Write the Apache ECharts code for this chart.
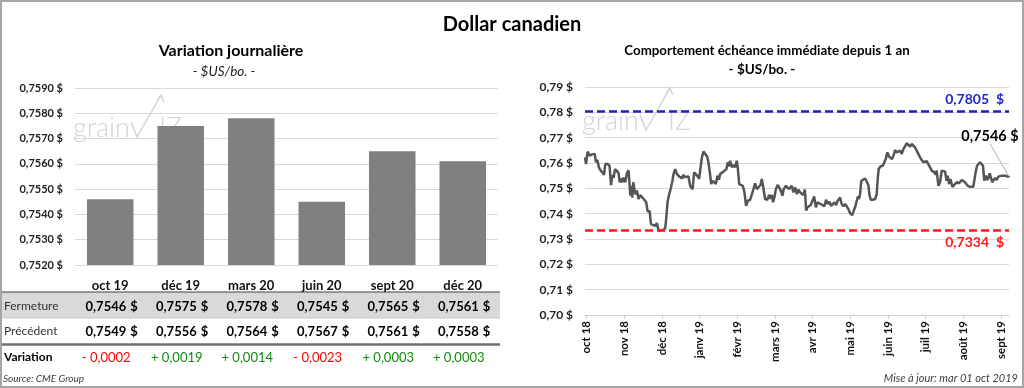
<!DOCTYPE html>
<html><head><meta charset="utf-8">
<script src="https://cdn.jsdelivr.net/npm/echarts@6/dist/echarts.min.js"></script>
<style>html,body{margin:0;padding:0;background:#fff}#c{width:1024px;height:388px}</style>
</head><body><div id="c"></div>
<script>
// ---------- DATA ----------
const barCategories = ['oct 19','déc 19','mars 20','juin 20','sept 20','déc 20'];
const closeValues = [0.7546,0.7575,0.7578,0.7545,0.7565,0.7561];
const prevValues = [0.7549,0.7556,0.7564,0.7567,0.7561,0.7558];
const variationValues = [-0.0002,0.0019,0.0014,-0.0023,0.0003,0.0003];
const barAxisMin = 0.7520, barAxisMax = 0.7590, barAxisStep = 0.0010;

const monthLabels = ['oct 18','nov 18','déc 18','janv 19','févr 19','mars 19','avr 19','mai 19','juin 19','juil 19','août 19','sept 19'];
const monthLabelDays = [1,24,47,70,93,116,139,162,185,208,231,254]; // trading-day index of each label
const lastDay = 259;
const lineAxisMin = 0.70, lineAxisMax = 0.79, lineAxisStep = 0.01;
// trading-day index / close value of the front-month contract
const lineDays = [0,0.6,1.6,2.8,4.3,5.3,5.9,6.7,7.5,8.5,9.5,10.6,11.6,12.4,13.8,15.0,15.9,16.7,17.5,18.3,19.5,20.5,21.2,22.0,22.8,23.6,24.6,25.6,26.6,27.7,28.3,28.9,29.5,30.3,30.9,31.7,32.7,33.8,35.0,36.2,37.4,38.2,39.5,40.3,41.5,42.9,43.9,44.9,46.4,48.0,49.0,49.6,50.4,51.3,52.3,53.3,54.1,55.1,56.1,57.4,58.6,59.4,60.0,61.0,62.2,
63.2,64.3,65.7,66.7,67.7,68.9,69.7,70.6,71.4,72.4,73.4,74.6,75.4,76.3,77.1,78.1,79.1,79.9,80.9,81.8,82.6,83.6,84.6,85.6,86.4,87.2,87.9,88.7,89.7,90.7,91.7,92.7,93.4,94.2,95.4,96.4,97.4,98.4,99.5,100.9,101.9,102.9,103.9,105.0,106.0,107.2,108.0,108.8,110.0,111.3,112.5,113.3,114.1,114.9,115.7,116.6,117.6,118.6,119.6,120.6,121.4,122.7,123.7,124.7,
125.3,126.3,127.3,128.4,129.4,130.4,131.4,132.4,133.4,134.3,135.1,135.9,136.9,137.9,138.9,140.0,141.0,142.0,142.8,144.0,145.0,146.1,147.3,148.3,149.3,150.3,151.4,152.4,153.4,154.4,155.8,156.8,157.9,158.9,159.9,160.9,161.9,163.2,164.2,165.2,166.0,166.8,167.4,168.0,168.8,169.7,171.1,172.1,173.1,173.7,174.5,175.8,177.2,178.2,178.8,179.4,180.6,181.9,182.7,183.7,184.7,185.7,186.8,187.6,188.8,
189.4,190.4,191.4,192.5,193.5,194.5,195.5,196.5,197.5,198.6,199.6,200.6,201.6,202.6,203.6,204.7,205.7,206.7,207.7,208.7,209.7,210.8,211.8,212.6,213.4,214.2,214.8,215.9,216.9,217.9,218.9,219.9,220.9,221.5,222.4,223.2,224.4,225.6,227.0,228.5,230.1,231.1,232.1,233.8,235.2,236.2,237.2,237.8,238.6,239.5,240.3,241.3,242.3,243.1,243.9,244.8,245.6,246.4,247.2,248.0,248.8,249.6,250.5,251.5,252.5,253.5,254.5,255.5,256.5,257.6,258.6,259];
const lineValues = [0.7622,0.7596,0.7645,0.7629,0.7634,0.7632,0.7636,0.7603,0.7613,0.7583,0.7571,0.7563,0.7553,0.7595,0.7597,0.7589,0.7513,0.7553,0.7542,0.7576,0.7568,0.7560,0.7524,0.7539,0.7524,0.7542,0.7524,0.7560,0.7571,0.7471,0.7510,0.7463,0.7524,0.7491,0.7476,0.7491,0.7458,0.7474,0.7464,0.7455,0.7445,0.7410,0.7410,0.7359,0.7355,0.7352,0.7363,0.7334,0.7334,0.7336,0.7344,0.7379,0.7445,0.7474,0.7497,0.7526,0.7557,0.7576,0.7557,0.7547,0.7547,0.7539,0.7553,0.7545,0.7547,
0.7547,0.7508,0.7497,0.7563,0.7557,0.7547,0.7537,0.7583,0.7622,0.7645,0.7636,0.7626,0.7603,0.7560,0.7517,0.7530,0.7524,0.7517,0.7550,0.7534,0.7557,0.7560,0.7566,0.7570,0.7576,0.7603,0.7587,0.7609,0.7583,0.7592,0.7583,0.7609,0.7576,0.7517,0.7513,0.7510,0.7484,0.7431,0.7451,0.7455,0.7458,0.7497,0.7520,0.7497,0.7504,0.7513,0.7537,0.7508,0.7458,0.7455,0.7474,0.7458,0.7474,0.7445,0.7464,0.7497,0.7513,0.7504,0.7491,0.7471,0.7497,0.7510,0.7504,0.7497,
0.7497,0.7510,0.7484,0.7504,0.7477,0.7495,0.7484,0.7491,0.7474,0.7495,0.7412,0.7425,0.7431,0.7434,0.7429,0.7468,0.7425,0.7445,0.7451,0.7438,0.7431,0.7429,0.7455,0.7438,0.7447,0.7431,0.7438,0.7445,0.7434,0.7451,0.7464,0.7438,0.7429,0.7438,0.7429,0.7418,0.7402,0.7394,0.7412,0.7431,0.7451,0.7468,0.7458,0.7477,0.7530,0.7537,0.7539,0.7537,0.7513,0.7477,0.7455,0.7455,0.7458,0.7477,0.7537,0.7576,0.7587,0.7589,0.7583,0.7616,0.7642,0.7626,0.7632,0.7616,0.7636,
0.7651,0.7642,0.7638,0.7649,0.7636,0.7655,0.7662,0.7678,0.7672,0.7665,0.7675,0.7675,0.7662,0.7649,0.7636,0.7622,0.7612,0.7603,0.7596,0.7607,0.7603,0.7583,0.7570,0.7576,0.7563,0.7554,0.7570,0.7510,0.7524,0.7570,0.7563,0.7567,0.7530,0.7550,0.7517,0.7537,0.7506,0.7514,0.7524,0.7520,0.7533,0.7537,0.7524,0.7510,0.7506,0.7504,0.7506,0.7504,0.7563,0.7589,0.7596,0.7603,0.7607,0.7589,0.7530,0.7550,0.7533,0.7541,0.7559,0.7541,0.7524,0.7533,0.7541,0.7533,0.7546,0.7541,0.7550,0.7546,0.7550,0.7550,0.7546,0.7546];
const yearHigh = 0.7805, yearLow = 0.7334, lastClose = 0.7546;

// ---------- HELPERS ----------
const FONT = 'Lato, "Noto Sans", sans-serif';
const comma = (v, d) => v.toFixed(d).replace('.', ',');
const fmtVar = v => (v < 0 ? '- ' : '+ ') + comma(Math.abs(v), 4);

const chart = echarts.init(document.getElementById('c'), null, {renderer: 'canvas'});

function watermark(ox, oy) {
  const c = '#d4d4d4';
  return {
    type: 'group', x: ox, y: oy, silent: true, z: 0,
    children: [
      {type: 'text', x: 0, y: 0, style: {text: 'grain', font: '300 27px ' + FONT, fill: c, textVerticalAlign: 'middle'}},
      {type: 'polyline', shape: {points: [[58, -6], [64, 9], [88, -33]]}, style: {stroke: c, lineWidth: 1.5, fill: null}},
      {type: 'polyline', shape: {points: [[84, -27], [88, -33], [91, -26]]}, style: {stroke: c, lineWidth: 1.5, fill: null}},
      {type: 'text', x: 86, y: 0, style: {text: 'IZ', font: '300 27px ' + FONT, fill: c, textVerticalAlign: 'middle'}}
    ]
  };
}

const option = {
  animation: false,
  textStyle: {fontFamily: FONT},
  grid: [
    {left: 75, right: 526, top: 88, bottom: 123},
    {left: 585, right: 15, top: 87, bottom: 73}
  ],
  xAxis: [
    {gridIndex: 0, type: 'category', data: barCategories,
     axisLine: {show: false}, axisTick: {show: false},
     axisLabel: {fontFamily: FONT, fontWeight: 'bold', fontSize: 13, color: '#111', margin: 14}},
    {gridIndex: 1, type: 'value', min: 0, max: lastDay,
     splitLine: {show: false},
     axisLine: {show: true, lineStyle: {color: '#d0d0d0'}},
     axisTick: {show: true, customValues: monthLabelDays, length: 4, lineStyle: {color: '#d0d0d0'}},
     axisLabel: {customValues: monthLabelDays, rotate: 90, margin: 6,
       fontFamily: FONT, fontWeight: 'bold', fontSize: 11.5, color: '#111',
       formatter: v => monthLabels[monthLabelDays.indexOf(Math.round(v))] || ''}}
  ],
  yAxis: [
    {gridIndex: 0, type: 'value', min: barAxisMin, max: barAxisMax, interval: barAxisStep,
     axisLine: {show: false}, axisTick: {show: false},
     splitLine: {lineStyle: {color: '#d9d9d9'}},
     axisLabel: {fontFamily: FONT, fontWeight: 'bold', fontSize: 11, color: '#222', margin: 12,
       formatter: v => comma(v, 4) + ' $'}},
    {gridIndex: 1, type: 'value', min: lineAxisMin, max: lineAxisMax, interval: lineAxisStep,
     axisLine: {show: false}, axisTick: {show: false},
     splitLine: {lineStyle: {color: '#d9d9d9'}},
     axisLabel: {fontFamily: FONT, fontWeight: 'bold', fontSize: 12, color: '#222', margin: 12,
       formatter: v => comma(v, 2) + ' $'}}
  ],
  series: [
    {type: 'bar', xAxisIndex: 0, yAxisIndex: 0, data: closeValues, barWidth: '66%',
     itemStyle: {color: '#808080'}, z: 3},
    {type: 'line', xAxisIndex: 1, yAxisIndex: 1, showSymbol: false, symbol: 'none',
     data: lineDays.map((d, i) => [d, lineValues[i]]),
     lineStyle: {color: '#555555', width: 2.5}, z: 3,
     markLine: {silent: true, symbol: ['none', 'none'], precision: 4,
       data: [
         {yAxis: yearHigh, lineStyle: {color: '#2020c0', type: [8, 4], width: 2.5},
          label: {position: 'insideEndTop', formatter: comma(yearHigh, 4) + '  $', color: '#2424cc',
            fontFamily: FONT, fontWeight: 'bold', fontSize: 14, distance: 5}},
         {yAxis: yearLow, lineStyle: {color: '#ff1a1a', type: [8, 4], width: 2.5},
          label: {position: 'insideEndBottom', formatter: comma(yearLow, 4) + '  $', color: '#ff1a1a',
            fontFamily: FONT, fontWeight: 'bold', fontSize: 14, distance: 5}}
       ]}},
    {type: 'scatter', xAxisIndex: 1, yAxisIndex: 1, symbolSize: 2, silent: true,
     itemStyle: {color: '#555555', opacity: 1},
     data: [[lastDay, lastClose]],
     label: {show: true, position: 'top', formatter: comma(lastClose, 4) + ' $', opacity: 1,
       fontFamily: FONT, fontWeight: 'bold', fontSize: 14.5, color: '#000'},
     labelLayout: {dx: -19, dy: -27},
     labelLine: {show: true, lineStyle: {color: '#b0b0b0', width: 1}}, z: 4}
  ]
};
chart.setOption(option);

// table & texts built from bar category centres
const centers = barCategories.map(c => chart.convertToPixel({xAxisIndex: 0}, c));
const g = [];
g.push({type: 'rect', shape: {x: 1, y: 1, width: 1022, height: 386}, style: {fill: null, stroke: '#a6a6a6', lineWidth: 2}, z: 10, silent: true});
g.push(watermark(73, 128));
g.push(watermark(582, 121));
g.push({type: 'text', x: 512, y: 25, style: {text: 'Dollar canadien', font: 'bold 20px ' + FONT, fill: '#000', textAlign: 'center', textVerticalAlign: 'middle'}});
g.push({type: 'text', x: 231, y: 51, style: {text: 'Variation journalière', font: 'bold 16px ' + FONT, fill: '#000', textAlign: 'center', textVerticalAlign: 'middle'}});
g.push({type: 'text', x: 224, y: 72, style: {text: '- $US/bo. -', font: 'italic 13.5px ' + FONT, fill: '#222', textAlign: 'center', textVerticalAlign: 'middle'}});
g.push({type: 'text', x: 767, y: 50.5, style: {text: 'Comportement échéance immédiate depuis 1 an', font: 'bold 13.3px ' + FONT, fill: '#000', textAlign: 'center', textVerticalAlign: 'middle'}});
g.push({type: 'text', x: 762, y: 69.5, style: {text: '- $US/bo. -', font: 'bold 13.5px ' + FONT, fill: '#000', textAlign: 'center', textVerticalAlign: 'middle'}});
// table
g.push({type: 'rect', shape: {x: 0, y: 292, width: 500, height: 26}, style: {fill: '#d9d9d9'}, silent: true});
g.push({type: 'line', shape: {x1: 0, y1: 292, x2: 500, y2: 292}, style: {stroke: '#404040', lineWidth: 1}, silent: true});
g.push({type: 'line', shape: {x1: 0, y1: 318, x2: 500, y2: 318}, style: {stroke: '#c8c8c8', lineWidth: 1}, silent: true});
g.push({type: 'line', shape: {x1: 0, y1: 344.5, x2: 500, y2: 344.5}, style: {stroke: '#707070', lineWidth: 2.5}, silent: true});
const rowY = [306.5, 331.5, 357.5];
g.push({type: 'text', x: 4, y: rowY[0], style: {text: 'Fermeture', font: '12px ' + FONT, fill: '#333', textVerticalAlign: 'middle'}});
g.push({type: 'text', x: 4, y: rowY[1], style: {text: 'Précédent', font: '12px ' + FONT, fill: '#333', textVerticalAlign: 'middle'}});
g.push({type: 'text', x: 4, y: rowY[2], style: {text: 'Variation', font: 'bold 12px ' + FONT, fill: '#000', textVerticalAlign: 'middle'}});
[closeValues, prevValues].forEach((arr, r) => {
  arr.forEach((v, i) => {
    g.push({type: 'text', x: centers[i] + 16, y: rowY[r], style: {text: comma(v, 4), font: 'bold 13px ' + FONT, fill: '#000', textAlign: 'right', textVerticalAlign: 'middle'}});
    g.push({type: 'text', x: centers[i] + 20, y: rowY[r], style: {text: '$', font: 'bold 13px ' + FONT, fill: '#000', textAlign: 'left', textVerticalAlign: 'middle'}});
  });
});
variationValues.forEach((v, i) => {
  g.push({type: 'text', x: centers[i] - 4, y: rowY[2], style: {text: fmtVar(v), font: '13px ' + FONT, fill: v < 0 ? '#ff0000' : '#128a12', textAlign: 'center', textVerticalAlign: 'middle'}});
});
g.push({type: 'text', x: 3, y: 379, style: {text: 'Source: CME Group', font: 'italic 10px ' + FONT, fill: '#404040', textVerticalAlign: 'middle'}});
g.push({type: 'text', x: 1018, y: 378, style: {text: 'Mise à jour: mar 01 oct 2019', font: 'italic 11px ' + FONT, fill: '#404040', textAlign: 'right', textVerticalAlign: 'middle'}});

chart.setOption({graphic: {elements: g}});
</script>
</body></html>
